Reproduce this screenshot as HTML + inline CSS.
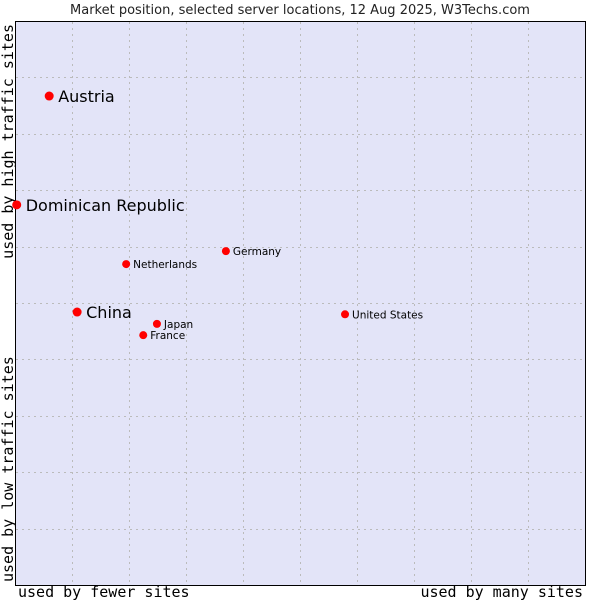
<!DOCTYPE html>
<html><head><meta charset="utf-8"><style>
body{margin:0;background:#fff;}
svg{display:block;}
</style></head><body>
<svg id="chart" width="600" height="600" xmlns="http://www.w3.org/2000/svg">
<text x="300" y="14" text-anchor="middle" font-family="DejaVu Sans, sans-serif" font-size="13" fill="#222">Market position, selected server locations, 12 Aug 2025, W3Techs.com</text>
<rect x="15.5" y="21.5" width="570" height="564" fill="#e3e4f8" stroke="#000" stroke-width="1"/>
<g id="grid"></g>
<text x="18" y="597" font-family="DejaVu Sans Mono, monospace" font-size="15" fill="#000">used by fewer sites</text>
<text x="583" y="597" text-anchor="end" font-family="DejaVu Sans Mono, monospace" font-size="15" fill="#000">used by many sites</text>
<text transform="translate(13,582) rotate(-90)" font-family="DejaVu Sans Mono, monospace" font-size="15" fill="#000">used by low traffic sites</text>
<text transform="translate(13,24) rotate(-90)" text-anchor="end" font-family="DejaVu Sans Mono, monospace" font-size="15" fill="#000">used by high traffic sites</text>
<g id="points"></g>
</svg>
<script>
const countries = ["Austria","Dominican Republic","Netherlands","Germany","China","Japan","France","United States"];
const xValues = [0.6,0.03,1.95,3.7,1.09,2.49,2.25,5.79];
const yValues = [8.67,6.74,5.69,5.92,4.84,4.63,4.43,4.80];
const bigLabel = [true,true,false,false,true,false,false,false];
const NS="http://www.w3.org/2000/svg";
function xs(v){return 15+v*57;}
function ys(v){return 585-v*56.4;}
const grid=document.getElementById('grid');
for(let i=1;i<10;i++){
  const l=document.createElementNS(NS,'line');
  l.setAttribute('x1',xs(i)+0.5);l.setAttribute('x2',xs(i)+0.5);l.setAttribute('y1',22);l.setAttribute('y2',585);
  l.setAttribute('stroke','#bbbbbb');l.setAttribute('stroke-dasharray','2,4');
  
  
  grid.appendChild(l);
  const h=document.createElementNS(NS,'line');
  h.setAttribute('y1',Math.round(ys(i))+0.5);h.setAttribute('y2',Math.round(ys(i))+0.5);h.setAttribute('x1',16);h.setAttribute('x2',585);
  h.setAttribute('stroke','#bbbbbb');h.setAttribute('stroke-dasharray','2,4');
  
  
  grid.appendChild(h);
}
const pts=document.getElementById('points');
countries.forEach((c,i)=>{
  const cx=xs(xValues[i]), cy=ys(yValues[i]);
  const m=document.createElementNS(NS,'circle');
  m.setAttribute('cx',cx);m.setAttribute('cy',cy);m.setAttribute('r',bigLabel[i]?4.5:4);m.setAttribute('fill','#f00');
  
  
  pts.appendChild(m);
  const t=document.createElementNS(NS,'text');
  t.setAttribute('x',cx+(bigLabel[i]?9:7));t.setAttribute('y',cy+(bigLabel[i]?6:4));
  t.setAttribute('font-family','DejaVu Sans, sans-serif');t.setAttribute('font-size',bigLabel[i]?16:10.5);
  t.setAttribute('fill','#000');
  t.textContent=c;
  
  
  pts.appendChild(t);
});
</script>
</body></html>
